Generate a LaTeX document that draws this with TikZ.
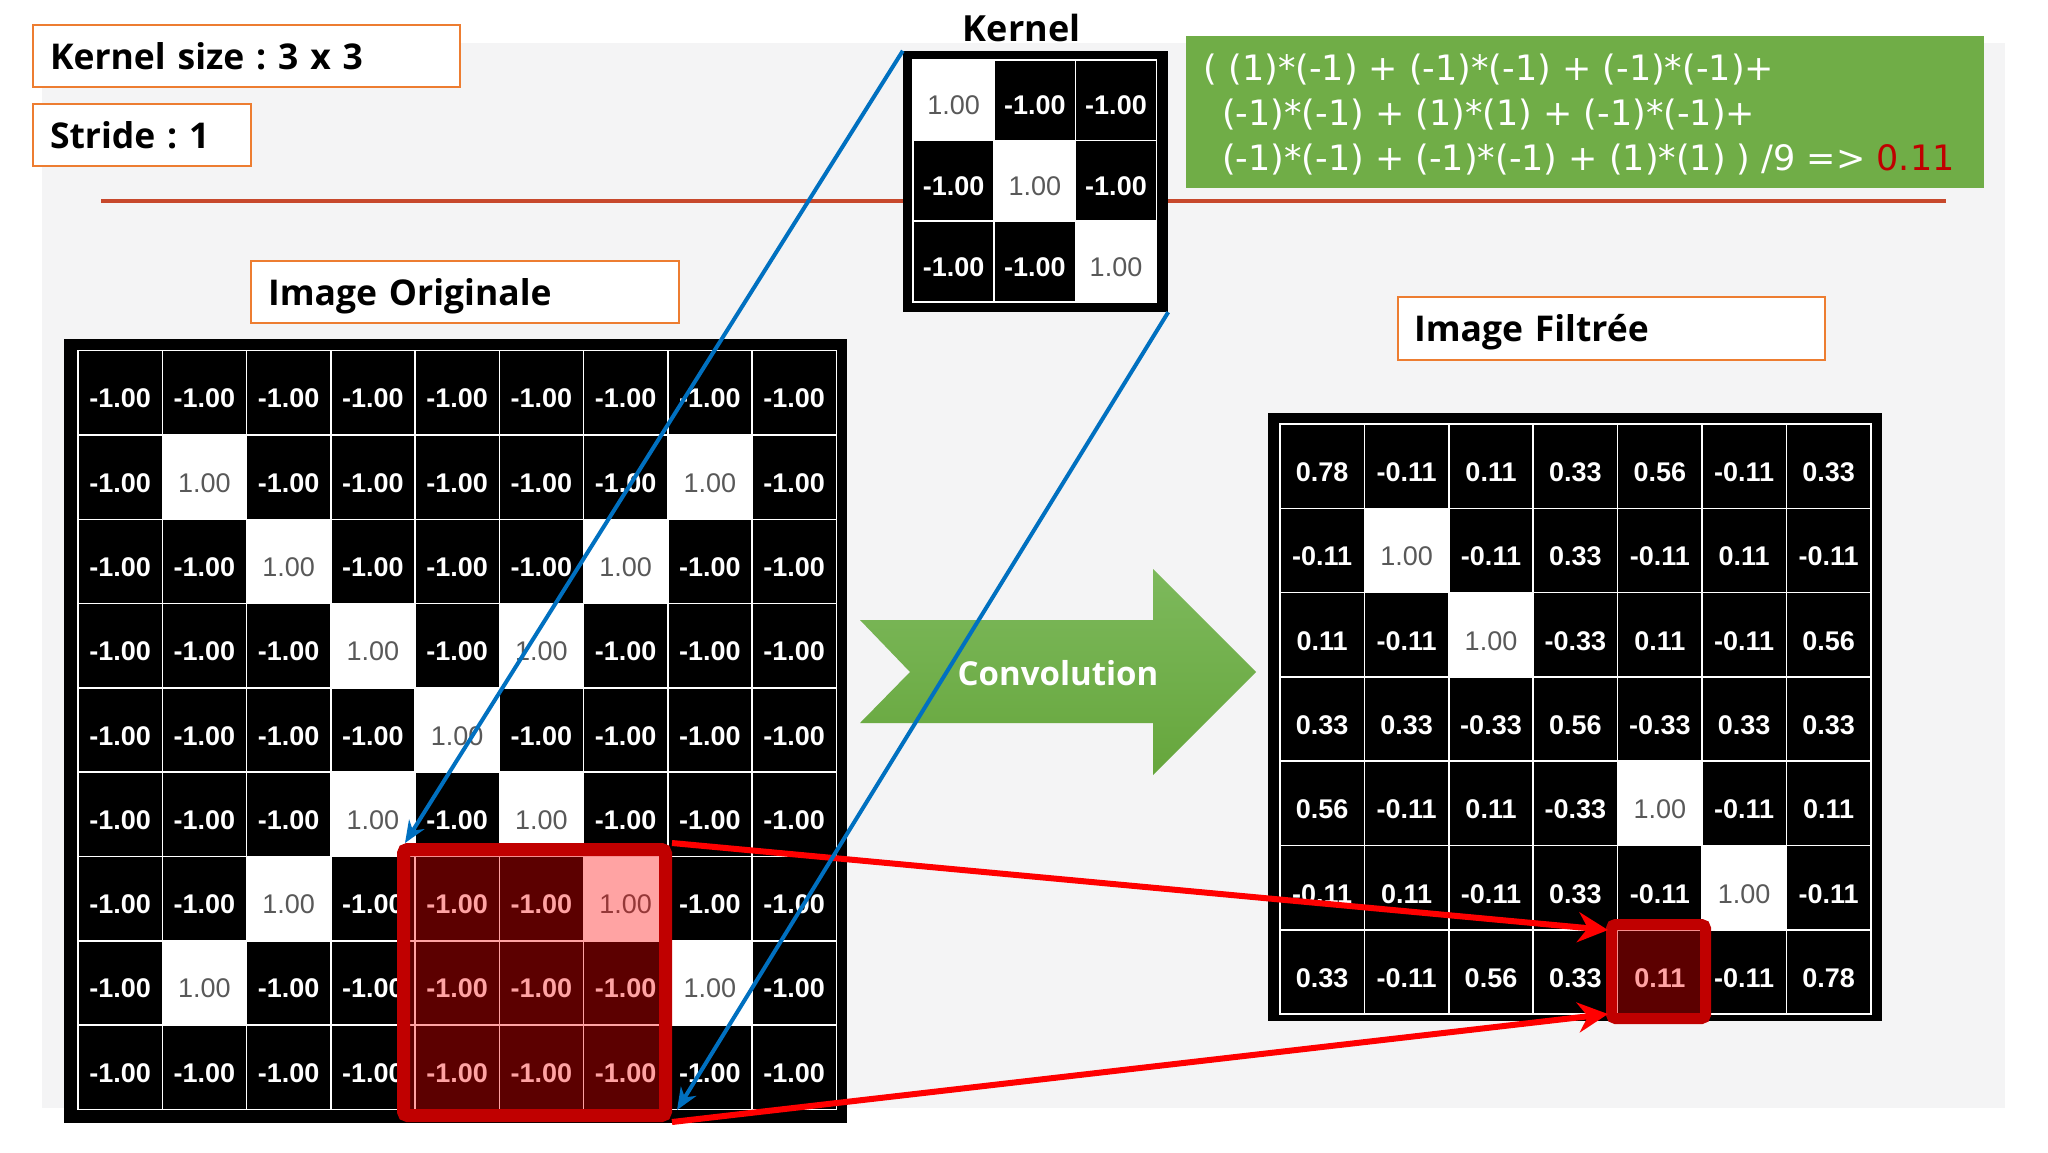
\documentclass[tikz,border=0pt]{standalone}
\usepackage{fontspec}
\setmainfont{Open Sans}
\newfontfamily\numfont{Liberation Sans}
\newfontfamily\formfont{DejaVu Sans}
\usetikzlibrary{arrows.meta,calc}
\frenchspacing
\definecolor{bgGray}{RGB}{244,244,245}
\definecolor{boxOrange}{RGB}{237,125,49}
\definecolor{lineRed}{RGB}{199,72,44}
\definecolor{officeGreen}{RGB}{112,173,71}
\definecolor{darkRed}{RGB}{192,0,0}
\definecolor{blueLine}{RGB}{0,112,192}
\definecolor{greyText}{RGB}{89,89,89}
\definecolor{arrowTop}{RGB}{125,185,92}
\definecolor{arrowBot}{RGB}{102,166,60}
\newcommand{\cellnum}[2]{\raisebox{#1}[0pt][0pt]{#2}}
\tikzset{
  lbl/.style={draw=boxOrange, line width=2pt, fill=white, inner xsep=17pt, inner ysep=0pt,
    align=left, text height=26pt, text depth=0pt,
    font=\frenchspacing\fontsize{35.5pt}{42pt}\selectfont\bfseries},
  cellbase/.style={draw=white, line width=1.5pt, inner sep=0pt},
  bcell/.style={cellbase, fill=black, text=white, font=\numfont\fontsize{27pt}{30pt}\selectfont\bfseries},
  wcell/.style={cellbase, fill=white, text=greyText, font=\numfont\fontsize{27pt}{30pt}\selectfont},
  frame/.style={fill=black, inner sep=0pt},
  hlbox/.style={draw=darkRed, line width=#1, rounded corners=4pt, fill=red, fill opacity=0.36, draw opacity=1, inner sep=0pt},
  formula/.style={text=white, inner sep=0pt, anchor=base west, font=\formfont\fontsize{35pt}{42pt}\selectfont},
  redarrow/.style={draw=red, line width=6pt, -{Stealth[length=30pt,width=30pt]}},
  bluearrow/.style={draw=blueLine, line width=4pt, -{Stealth[length=22pt,width=18pt]}},
}
\begin{document}
\begin{tikzpicture}[x=1pt,y=-1pt]
\useasboundingbox (0,0) rectangle (2048,1152);
\fill[white] (0,0) rectangle (2048,1152);
\fill[bgGray] (42,43) rectangle (2005,1108);

% separator line
\coordinate (sepL) at (101,200.7);
\coordinate (sepR) at (1946,200.7);
\draw[lineRed, line width=4pt] (sepL) -- (sepR);

% labels
\node[lbl, text width=393pt, minimum height=62pt] (ks) at (246.5,56) {Kernel size : 3 x 3};
\node[lbl, text width=184pt, minimum height=62pt] (st) at (142,135) {Stride : 1};
\node[lbl, text width=394pt, minimum height=62pt] (io) at (465,292) {Image Originale};
\node[lbl, text width=395pt, minimum height=63pt, inner xsep=16pt] (ifl) at (1611.5,328.5) {Image Filtrée};

% formula box
\node[fill=officeGreen, minimum width=798pt, minimum height=152pt, inner sep=0pt] (fbox) at (1585,112) {};
\node[formula] (f1) at (1203.5,80) {( (1)*(-1) + (-1)*(-1) + (-1)*(-1)+};
\node[formula] (f2) at (1222,125) {(-1)*(-1) + (1)*(1) + (-1)*(-1)+};
\node[formula] (f3) at (1222,170) {(-1)*(-1) + (-1)*(-1) + (1)*(1) ) /9 => \textcolor{darkRed}{0.11}};

% kernel
\node[font=\fontsize{36pt}{42pt}\selectfont\bfseries, anchor=base, inner sep=0pt] (kt) at (1021.7,41.7) {Kernel};
\node[frame, minimum width=265pt, minimum height=261pt] (kern) at (1035.5,181.5) {};
\foreach \r in {0,1,2}{
  \foreach \c in {0,1,2}{
    \pgfmathsetmacro\cx{913+81.2*(\c+0.5)}
    \pgfmathsetmacro\cy{60+80.6*(\r+0.5)}
    \ifnum\r=\c
      \node[wcell, minimum width=81.2pt, minimum height=80.6pt] (k-\r-\c) at (\cx,\cy) {\cellnum{-14.5pt}{1.00}};
    \else
      \node[bcell, minimum width=81.2pt, minimum height=80.6pt] (k-\r-\c) at (\cx,\cy) {\cellnum{-14.5pt}{-1.00}};
    \fi
  }
}

% original image
\node[frame, minimum width=783pt, minimum height=784pt] (oframe) at (455.5,731) {};
\foreach \r in {0,...,8}{
  \foreach \c in {0,...,8}{
    \pgfmathtruncatemacro\w{(\r==\c || \r+\c==8) && \r>0 && \r<8}
    \pgfmathsetmacro\cx{78+84.25*(\c+0.5)}
    \pgfmathsetmacro\cy{350.7+84.3*(\r+0.5)}
    \ifnum\w=1
      \node[wcell, minimum width=84.25pt, minimum height=84.3pt] (o-\r-\c) at (\cx,\cy) {\cellnum{-15pt}{1.00}};
    \else
      \node[bcell, minimum width=84.25pt, minimum height=84.3pt] (o-\r-\c) at (\cx,\cy) {\cellnum{-15pt}{-1.00}};
    \fi
  }
}
\node[hlbox=13pt, minimum width=262pt, minimum height=266pt] (hl) at (534.5,982.5) {};

% filtered image
\def\frows{{0.78,-0.11,0.11,0.33,0.56,-0.11,0.33},{-0.11,1.00,-0.11,0.33,-0.11,0.11,-0.11},{0.11,-0.11,1.00,-0.33,0.11,-0.11,0.56},{0.33,0.33,-0.33,0.56,-0.33,0.33,0.33},{0.56,-0.11,0.11,-0.33,1.00,-0.11,0.11},{-0.11,0.11,-0.11,0.33,-0.11,1.00,-0.11},{0.33,-0.11,0.56,0.33,0.11,-0.11,0.78}}
\node[frame, minimum width=614pt, minimum height=608pt] (fframe) at (1575,717) {};
\foreach \row [count=\r from 0] in \frows {
  \foreach \v [count=\c from 0] in \row {
    \pgfmathsetmacro\cx{1280+84.4*(\c+0.5)}
    \pgfmathsetmacro\cy{424+84.3*(\r+0.5)}
    \ifdim \v pt > 0.9pt
      \node[wcell, minimum width=84.4pt, minimum height=84.3pt] (f-\r-\c) at (\cx,\cy) {\cellnum{-15.5pt}{\v}};
    \else
      \node[bcell, minimum width=84.4pt, minimum height=84.3pt] (f-\r-\c) at (\cx,\cy) {\cellnum{-15.5pt}{\v}};
    \fi
  }
}
\node[hlbox=11pt, minimum width=94pt, minimum height=94pt] (fhl) at (1658.5,971.5) {};

% convolution arrow
\shade[top color=arrowTop, bottom color=arrowBot]
  (860,620) -- (1153,620) -- (1153,569) -- (1256,672) -- (1153,775) -- (1153,723) -- (860,723) -- (910,672) -- cycle;
\node[text=white, anchor=base, inner sep=0pt, font=\fontsize{33pt}{40pt}\selectfont\bfseries] (cv) at (1058,685) {Convolution};

% red connectors
\coordinate (t1) at (1608,930);
\coordinate (t2) at (1608,1014);
\draw[redarrow] (hl.north east) -- (t1);
\draw[redarrow] (hl.south east) -- (t2);

% blue connectors
\coordinate (b1) at (405,843);
\coordinate (b2) at (677,1110);
\draw[bluearrow] (kern.north west) -- (b1);
\draw[bluearrow] (kern.south east) -- (b2);
\end{tikzpicture}
\end{document}
